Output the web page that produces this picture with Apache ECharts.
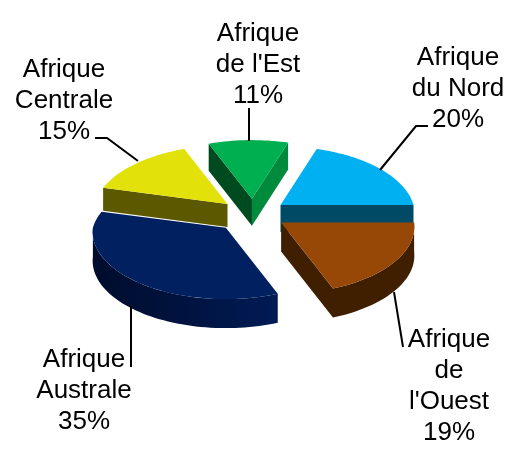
<!DOCTYPE html>
<html>
<head>
<meta charset="utf-8">
<style>
  html, body { margin: 0; padding: 0; background: #fff; }
  #main { width: 518px; height: 450px; }
</style>
<script src="https://cdn.jsdelivr.net/npm/echarts@6/dist/echarts.min.js"></script>
</head>
<body>
<div id="main"></div>
<script>
// clockwise from the first slice
const categories = ["Afrique\ndu Nord", "Afrique\nde\nl'Ouest", "Afrique\nAustrale", "Afrique\nCentrale", "Afrique\nde l'Est"];
const shares = [20, 19, 35, 15, 11];

const topColors = ['#00b0f0', '#974806', '#002060', '#e2e20a', '#00b050'];
const startWallColors = ['#004a66', '#3f1f00', '#000f3a', '#5c5800', '#004a20'];
const endWallColors = ['#004a66', '#3f1f00', '#000f3a', '#5c5800', '#008a3c'];
const rimColors = [['#004a66', '#004a66'], ['#3f1f00', '#3f1f00'], ['#001b54', '#000c2c'], ['#5c5800', '#5c5800'], ['#004a20', '#004a20']];
const sliceDepths = [27, 29, 29, 23, 27];
const sliceExplode = [34, 34, 41, 34, 34];
const drawOrder = [4, 3, 0, 2, 1];

const labelCenters = [[458, 89], [449, 386], [84, 391], [64, 101], [258, 65]];
const leaderLines = [
    [[428, 126], [416, 126], [380, 170]],
    [[403, 347], [394, 292]],
    [[131, 367], [131, 306]],
    [[95, 138], [107, 138], [138, 161]],
    [[249, 108], [249, 141]]
];

const center = [253, 214];
const radius = 133;
const startAngle = 18;

const total = shares.reduce((a, b) => a + b, 0);
const rad = d => d * Math.PI / 180;

// slice angles in degrees, clockwise from north
const spans = [];
let acc = startAngle;
shares.forEach(v => {
    const end = acc + v / total * 360;
    spans.push([acc, end]);
    acc = end;
});

// tilted view, the back of the pie is a bit smaller than the front
function rimPoint(tip, deg) {
    const c = Math.cos(rad(deg));
    const s = 1 / (1 + (c > 0 ? 0.143 : 0.06) * c);
    return [tip[0] + radius * Math.sin(rad(deg)) * s, tip[1] - 67 * c * s];
}

function tipOf(i) {
    const mid = rad((spans[i][0] + spans[i][1]) / 2);
    const c = Math.cos(mid);
    const e = sliceExplode[i];
    return [center[0] + e * Math.sin(mid), center[1] - e * c * (c > 0 ? 0.45 : 0.45)];
}

function arcPoints(tip, from, to) {
    const pts = [];
    const n = Math.max(2, Math.ceil((to - from) / 2));
    for (let k = 0; k <= n; k++) pts.push(rimPoint(tip, from + (to - from) * k / n));
    return pts;
}

const down = (pts, d) => pts.map(p => [p[0], p[1] + d]);
const poly = (points, fill) => ({ type: 'polygon', shape: { points }, style: { fill } });

function renderSlice(params, api) {
    const i = api.value(0);
    const [a, b] = spans[i];
    const tip = tipOf(i);
    const d = sliceDepths[i];
    const children = [];

    if (Math.sin(rad(a)) < 0) {
        const p = rimPoint(tip, a);
        children.push(poly([tip, p, [p[0], p[1] + d], [tip[0], tip[1] + d]], startWallColors[i]));
    }
    if (Math.sin(rad(b)) > 0) {
        const p = rimPoint(tip, b);
        children.push(poly([tip, p, [p[0], p[1] + d], [tip[0], tip[1] + d]], endWallColors[i]));
    }
    const from = Math.max(a, 90);
    const to = Math.min(b, 270);
    if (to > from) {
        const arc = arcPoints(tip, from, to);
        children.push(poly(arc.concat(down(arc, d).reverse()), {
            type: 'linear', x: 1, y: 0, x2: 0, y2: 0,
            colorStops: [{ offset: 0, color: rimColors[i][0] }, { offset: 1, color: rimColors[i][1] }]
        }));
    }
    children.push(poly([tip].concat(arcPoints(tip, a, b)), topColors[i]));
    return { type: 'group', children };
}

function renderLabel(params, api) {
    const i = api.value(0);
    return {
        type: 'group',
        children: [
            {
                type: 'polyline',
                shape: { points: leaderLines[i] },
                style: { stroke: '#000', lineWidth: 2, fill: null }
            },
            {
                type: 'text',
                style: {
                    text: categories[i] + '\n' + api.value(1) + '%',
                    x: labelCenters[i][0],
                    y: labelCenters[i][1],
                    fill: '#000',
                    fontFamily: '"Liberation Sans", Arial, sans-serif',
                    fontSize: 26,
                    lineHeight: 31,
                    align: 'center',
                    verticalAlign: 'middle'
                }
            }
        ]
    };
}

const chart = echarts.init(document.getElementById('main'));
chart.setOption({
    animation: false,
    backgroundColor: '#fff',
    series: [
        {
            type: 'custom',
            coordinateSystem: 'none',
            renderItem: renderSlice,
            data: drawOrder.map(i => [i, shares[i]]),
            silent: true
        },
        {
            type: 'custom',
            coordinateSystem: 'none',
            renderItem: renderLabel,
            data: shares.map((v, i) => [i, v]),
            silent: true
        }
    ]
});
</script>
</body>
</html>
